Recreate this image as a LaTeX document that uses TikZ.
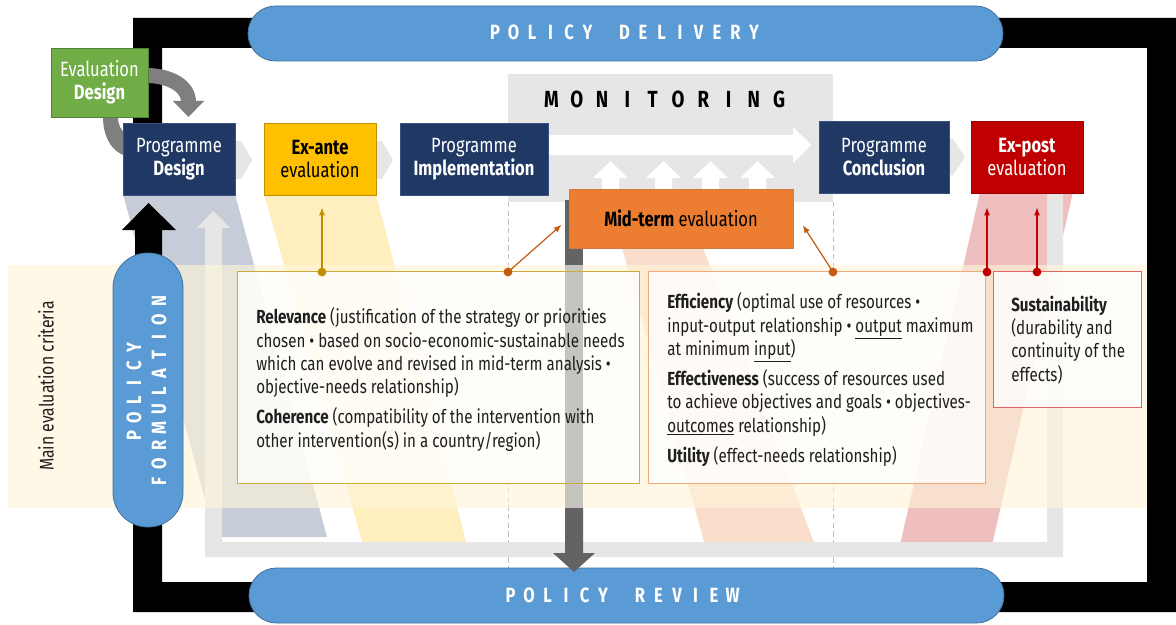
\documentclass[tikz,border=0pt]{standalone}
\usepackage{fontspec}
\setmainfont{Fira Sans}[FakeStretch=0.8]
\usetikzlibrary{arrows.meta,calc}
\definecolor{navy}{HTML}{203864}
\definecolor{navyedge}{HTML}{3A5283}
\definecolor{pgreen}{HTML}{70AD47}
\definecolor{pgreenedge}{HTML}{548235}
\definecolor{pyellow}{HTML}{FFC000}
\definecolor{porange}{HTML}{ED7D31}
\definecolor{pred}{HTML}{C00000}
\definecolor{pblue}{HTML}{5B9BD5}
\definecolor{pblueedge}{HTML}{41719C}
\definecolor{lgray}{HTML}{E6E6E6}
\definecolor{dgray}{HTML}{636363}
\definecolor{mgray}{HTML}{C6C4BE}
\definecolor{cgray}{HTML}{7F7F7F}
\definecolor{bandc}{HTML}{FFF5D9}
\definecolor{goldc}{HTML}{BF9000}
\definecolor{goldedge}{HTML}{CFAA3A}
\definecolor{oconn}{HTML}{C55A11}
\definecolor{oedge}{HTML}{F0A97A}
\definecolor{redge}{HTML}{E06666}
\definecolor{dashc}{HTML}{BFBFBF}
\begin{document}
\begin{tikzpicture}[x=0.75pt,y=-0.75pt,
 pbox/.style={rectangle, inner sep=0pt, align=center, text=white, fill=navy, draw=navyedge, line width=0.5pt, font=\fontsize{15.5}{17.25}\selectfont, minimum height=54pt},
 critfill/.style={rectangle, inner sep=0pt, fill=white, fill opacity=0.78},
 bodytxt/.style={inner sep=0pt, anchor=north west, align=left, text=black!88, font=\fontsize{14.2}{17.5}\selectfont},
 pletter/.style={inner sep=0pt, text=white, font=\bfseries\fontsize{15.5}{16}\selectfont},
 mletter/.style={inner sep=0pt, text=black, font=\bfseries\fontsize{17.5}{18}\selectfont},
 conn/.style={line width=0.9pt, -{Latex[length=6pt,width=4.5pt]}},
 pill/.style={fill=pblue, draw=pblueedge, line width=0.6pt}
]
\useasboundingbox (0,0) rectangle (1176,624);
\fill[white] (0,0) rectangle (1176,624);

% beams
\fill[navy, opacity=0.25] (123,194) -- (235,194) -- (327,537) -- (215,537) -- cycle;
\fill[pyellow, opacity=0.25] (264,194) -- (376,194) -- (467,545) -- (363,545) -- cycle;
\fill[porange, opacity=0.25] (620,240) -- (700,240) -- (815,545) -- (705,545) -- cycle;
\fill[pred, opacity=0.25] (980,192) -- (1073,192) -- (992,545) -- (900,545) -- cycle;

% monitoring area
\fill[lgray] (508,74) rectangle (833,202);

% dashed lines
\draw[dashc, line width=0.7pt, dash pattern=on 4pt off 2.5pt] (508,202) -- (508,568);
\draw[dashc, line width=0.7pt, dash pattern=on 4pt off 2.5pt] (833,202) -- (833,568);

% light gray feedback loop
\fill[lgray] (213,211) -- (230,228) -- (222,228) -- (222,542) -- (1047,542) -- (1047,185) -- (1063,185) -- (1063,557) -- (205,557) -- (205,228) -- (197,228) -- cycle;

% black frame
\fill[black] (133,123) -- (133,18) -- (1176,18) -- (1176,612) -- (133,612) -- (133,300) -- (162,300) -- (162,582) -- (1147,582) -- (1147,48) -- (162,48) -- (162,123) -- cycle;

% band
\fill[bandc, opacity=0.62] (8,265) rectangle (1147,508);
\node[rotate=90, inner sep=0pt, text=black!88, font=\fontsize{14.8}{16}\selectfont] (mec) at (46,386) {Main evaluation criteria};

% criteria box fills
\node[critfill, minimum width=300.75pt, minimum height=158.25pt] (box1) at (438.5,377.5) {};
\node[critfill, minimum width=252pt, minimum height=158.25pt] (box2) at (817,377.5) {};
\node[critfill, minimum width=110.25pt, minimum height=101.25pt] (box3) at (1067.5,339.5) {};

% policy review pill
\draw[pill, rounded corners=20.6pt] (249,568) rectangle (1004,623);
\foreach \c [count=\i] in {P,O,L,I,C,Y} \node[pletter] (pr\i) at ({510.5+(\i-1)*18.5},595) {\c};
\foreach \c [count=\i] in {R,E,V,I,E,W} \node[pletter] (prr\i) at ({510.5+(\i+6)*18.5},595) {\c};

% mid-term shaft
\fill[dgray] (565,200) rectangle (583,265);
\fill[mgray] (565,265) rectangle (583,508);
\fill[dgray] (565,508) -- (583,508) -- (583,553) -- (595,553) -- (574,572) -- (553,553) -- (565,553) -- cycle;

% chevrons
\fill[lgray] (225,141) -- (241,141) -- (252,160) -- (241,179) -- (225,179) -- cycle;
\fill[lgray] (366,141) -- (382,141) -- (393,160) -- (382,179) -- (366,179) -- cycle;
\fill[lgray] (940,139) -- (953,139) -- (965,157) -- (953,175) -- (940,175) -- cycle;

% monitoring arrows
\fill[white] (548,135) -- (793,135) -- (793,127) -- (811,145) -- (793,163) -- (793,155) -- (548,155) -- cycle;
\foreach \cx in {610.5,663.5,710.5,757.5}
  \fill[white] (\cx-8.5,195) -- (\cx-8.5,178) -- (\cx-17.5,178) -- (\cx,161) -- (\cx+17.5,178) -- (\cx+8.5,178) -- (\cx+8.5,195) -- cycle;
\foreach \c [count=\i] in {M,O,N,I,T,O,R,I,N,G} \node[mletter] (mo\i) at ({551.5+(\i-1)*25.3},99) {\c};

% black up arrow and formulation pill
\fill[black] (135,258) -- (135,230) -- (122,230) -- (148.5,203) -- (176,230) -- (162,230) -- (162,258) -- cycle;
\draw[pill, rounded corners=26pt] (113,253) rectangle (183,527);
\foreach \c [count=\i] in {P,O,L,I,C,Y} \node[pletter, rotate=90] (pf\i) at (134,{435.25-(\i-1)*17.5}) {\c};
\foreach \c [count=\i] in {F,O,R,M,U,L,A,T,I,O,N} \node[pletter, rotate=90] (pg\i) at (159,{481.5-(\i-1)*18}) {\c};

% policy delivery pill
\draw[pill, rounded corners=20.6pt] (248,6) rectangle (1003,61);
\foreach \c [count=\i] in {P,O,L,I,C,Y} \node[pletter] (pd\i) at ({495+(\i-1)*18.5},32) {\c};
\foreach \c [count=\i] in {D,E,L,I,V,E,R,Y} \node[pletter] (pe\i) at ({495+(\i+6)*18.5},32) {\c};

% curved gray arrows
\draw[cgray, line width=11.25pt] (146,75.5) .. controls (170,75.5) and (188.5,86) .. (188.5,102);
\fill[cgray] (173,101) -- (204,101) -- (188.5,117) -- cycle;
\fill[cgray] (103,112) -- (103,117) .. controls (103,137) and (112,152) .. (126,156) -- (126,133) .. controls (121,131) and (118,125) .. (118,117) -- (118,112) -- cycle;

% process boxes
\node[pbox, fill=pgreen, draw=pgreenedge, minimum width=72.75pt, minimum height=51.75pt] (evald) at (99.5,82.5) {Evaluation\\\textbf{Design}};
\node[pbox, minimum width=84pt] (pdesign) at (179,159) {Programme\\\textbf{Design}};
\node[pbox, fill=pyellow, draw=goldc, text=black, minimum width=84pt] (exante) at (320,159) {\textbf{Ex-ante}\\evaluation};
\node[pbox, minimum width=111pt] (pimpl) at (474,159) {Programme\\\textbf{Implementation}};
\node[pbox, minimum width=97.5pt] (pconcl) at (884,157) {Programme\\\textbf{Conclusion}};
\node[pbox, fill=pred, draw=pred!80!black, minimum width=84pt] (expost) at (1027,157) {\textbf{Ex-post}\\evaluation};
\node[pbox, fill=porange, draw=oconn!80, text=black, minimum width=168pt, minimum height=44.25pt] (midterm) at (681,218.5) {\textbf{Mid-term} evaluation};

% criteria box borders
\draw[goldedge, line width=0.8pt] (box1.north west) rectangle (box1.south east);
\draw[oedge, line width=0.8pt] (box2.north west) rectangle (box2.south east);
\draw[redge, line width=0.8pt] (box3.north west) rectangle (box3.south east);

% criteria texts
\node[bodytxt] (t1) at (256,307.5) {\textbf{Relevance} (justification of the strategy or priorities\\chosen • based on socio-economic-sustainable needs\\which can evolve and revised in mid-term analysis •\\objective-needs relationship)\\[5pt]\textbf{Coherence} (compatibility of the intervention with\\other intervention(s) in a country/region)};
\node[bodytxt] (t2) at (667,292.5) {\textbf{Efficiency} (optimal use of resources •\\input-output relationship • \underline{output} maximum\\at minimum \underline{input})\\[5pt]\textbf{Effectiveness} (success of resources used\\to achieve objectives and goals • objectives-\\\underline{outcomes} relationship)\\[5pt]\textbf{Utility} (effect-needs relationship)};
\node[bodytxt] (t3) at (1011,295.5) {\textbf{Sustainability}\\(durability and\\continuity of the\\effects)};

% connectors
\coordinate (dA) at (322,272);
\coordinate (dB) at (508,272);
\coordinate (dC) at (833,272);
\coordinate (dD) at (987,272);
\coordinate (dE) at (1037,272);
\draw[conn, goldc, shorten >=9pt] (dA) -- (dA |- exante.south);
\draw[conn, oconn, shorten >=7pt] (dB) -- (midterm.west);
\draw[conn, oconn, shorten >=13pt] (dC) -- ($(midterm.east)+(0,-8)$);
\draw[conn, pred, shorten >=10.5pt] (dD) -- (dD |- expost.south);
\draw[conn, pred, shorten >=10.5pt] (dE) -- (dE |- expost.south);
\fill[goldc] (dA) circle (3.3pt);
\fill[oconn] (dB) circle (3.3pt);
\fill[oconn] (dC) circle (3.3pt);
\fill[pred] (dD) circle (3.3pt);
\fill[pred] (dE) circle (3.3pt);
\end{tikzpicture}
\end{document}
